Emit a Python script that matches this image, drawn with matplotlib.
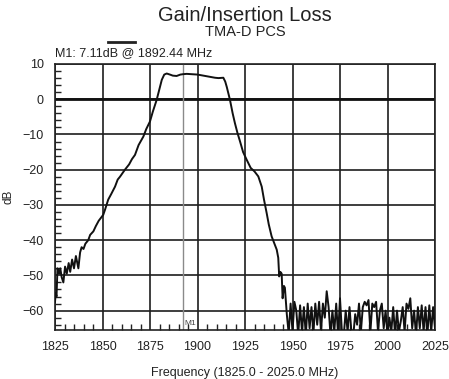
import matplotlib
matplotlib.use("Agg")
from matplotlib import pyplot as plt
from matplotlib.ticker import MultipleLocator
import numpy as np

plt.rcParams['font.family'] = ['Liberation Sans', 'DejaVu Sans']

# swept response, pass band and skirts (MHz, dB)
edge_freq = [1825.0, 1825.4, 1825.8, 1826.3, 1827.2, 1827.8, 1828.5, 1829.4, 1830.3,
             1831.2, 1832.2, 1833.0, 1834.0, 1835.0, 1836.0, 1837.3, 1838.2, 1839.0,
             1840.0, 1841.0, 1842.5, 1843.5, 1845.2, 1846.5, 1848.0, 1850.4, 1851.3,
             1853.0, 1854.5, 1856.6, 1858.0, 1859.2, 1861.8, 1864.0, 1865.5, 1867.1,
             1869.0, 1871.5, 1873.0, 1875.0, 1876.5, 1878.5, 1880.0, 1881.2, 1882.5,
             1883.8, 1885.5, 1887.0, 1889.0, 1891.0, 1892.44, 1894.3, 1897.0, 1900.0,
             1903.0, 1906.0, 1909.2, 1911.0, 1913.6, 1914.6, 1915.4, 1917.1, 1918.5,
             1919.7, 1921.0, 1922.4, 1924.0, 1925.9, 1928.0, 1930.0, 1932.0, 1933.8,
             1935.0, 1936.4, 1937.5, 1939.0, 1940.5, 1941.7, 1942.5, 1943.0, 1943.6,
             1944.3, 1944.8, 1945.5]
edge_db = [-57.5, -55.0, -56.0, -48.0, -49.5, -48.0, -50.5, -52.0, -47.5,
           -49.5, -46.5, -49.0, -45.5, -48.0, -44.5, -48.0, -43.5, -42.0,
           -42.5, -41.0, -40.0, -38.5, -37.5, -36.0, -34.5, -32.8, -31.4,
           -28.5, -27.0, -24.8, -22.8, -22.0, -20.0, -18.5, -17.0, -15.8,
           -13.0, -10.6, -8.5, -6.3, -3.5, -0.2, 3.0, 5.5, 7.0,
           7.3, 7.0, 6.7, 6.6, 7.0, 7.11, 7.2, 7.1, 7.0,
           6.7, 6.4, 6.1, 6.0, 6.1, 5.0, 3.5, -0.2, -4.0,
           -6.8, -9.5, -12.0, -15.0, -17.2, -19.5, -20.5, -21.9, -24.8,
           -28.5, -32.3, -35.5, -38.9, -41.0, -42.7, -45.0, -50.3, -49.0,
           -49.5, -56.5, -53.0]

# stop band noise floor, 1 MHz steps from 1946 to 2025
floor_freq = np.arange(1946, 2026)
floor_db = [-53.5, -61.0, -66.5, -58.0, -66.0, -57.5, -60.0, -67.0, -58.5, -66.0,
            -59.0, -67.0, -58.0, -65.0, -59.0, -66.5, -58.0, -64.0, -57.5, -66.0,
            -58.0, -62.0, -54.5, -59.0, -67.0, -60.0, -66.0, -58.0, -67.0, -56.5,
            -66.0, -67.0, -60.0, -66.0, -59.0, -66.0, -67.0, -61.0, -64.0, -58.0,
            -66.0, -59.0, -57.5, -58.5, -57.0, -66.0, -58.0, -59.0, -57.5, -66.0,
            -60.0, -58.0, -65.0, -60.0, -67.0, -62.0, -66.0, -59.0, -67.0, -60.0,
            -66.0, -63.0, -59.0, -66.0, -58.0, -59.5, -56.5, -65.0, -60.0, -67.0,
            -59.0, -65.0, -58.5, -66.0, -59.0, -67.0, -58.5, -66.0, -59.0, -65.0]

freq = np.concatenate([edge_freq, floor_freq])
gain = np.concatenate([edge_db, floor_db])

marker_freq = 1892.44
marker_db = 7.11

fig = plt.figure(figsize=(4.49, 3.79), dpi=100)
ax = fig.add_axes([55 / 449, 1 - 330 / 379, 380 / 449, 266 / 379])

ax.set_xlim(1825, 2025)
ax.set_ylim(-65.5, 10)
ax.xaxis.set_major_locator(MultipleLocator(25))
ax.xaxis.set_minor_locator(MultipleLocator(5))
ax.yaxis.set_major_locator(MultipleLocator(10))
ax.yaxis.set_minor_locator(MultipleLocator(2))

ax.grid(True, which='major', color='#1e1e1e', linewidth=1.2)
ax.axhline(0, color='#111111', linewidth=2.0, zorder=2)
ax.axvline(marker_freq, color='#8a8a8a', linewidth=1.0, zorder=2)

ax.plot(freq, gain, color='#111111', linewidth=1.4, zorder=3)

ax.tick_params(which='major', length=0, labelsize=9, pad=8, colors='#222222')
ax.tick_params(which='minor', direction='in', length=4, width=1, color='#222222')
ax.tick_params(axis='x', which='minor', top=False)
ax.tick_params(axis='y', which='minor', right=False)
for s in ax.spines.values():
    s.set_linewidth(1.2)
    s.set_color('#222222')

ax.set_xlabel('Frequency (1825.0 - 2025.0 MHz)', fontsize=9, labelpad=10, color='#222222')
ax.set_ylabel('dB', fontsize=8.5, labelpad=6, color='#222222')

ax.text(marker_freq + 0.8, -64.6, 'M1', fontsize=6, color='#444444', va='bottom', ha='left')
ax.text(0.0, 1.02, 'M1: %.2fdB @ %.2f MHz' % (marker_db, marker_freq), transform=ax.transAxes,
        fontsize=9, color='#222222', ha='left', va='bottom')

fig.text(245 / 449, 1 - 21 / 379, 'Gain/Insertion Loss', fontsize=14.5, ha='center',
         va='baseline', color='#222222')
fig.text(245 / 449, 1 - 36 / 379, 'TMA-D PCS', fontsize=10.5, ha='center',
         va='baseline', color='#222222')
fig.add_artist(plt.Line2D([108 / 449, 135 / 449], [1 - 42 / 379, 1 - 42 / 379],
                          color='#222222', linewidth=2))

fig.savefig('out.png', dpi=100)
